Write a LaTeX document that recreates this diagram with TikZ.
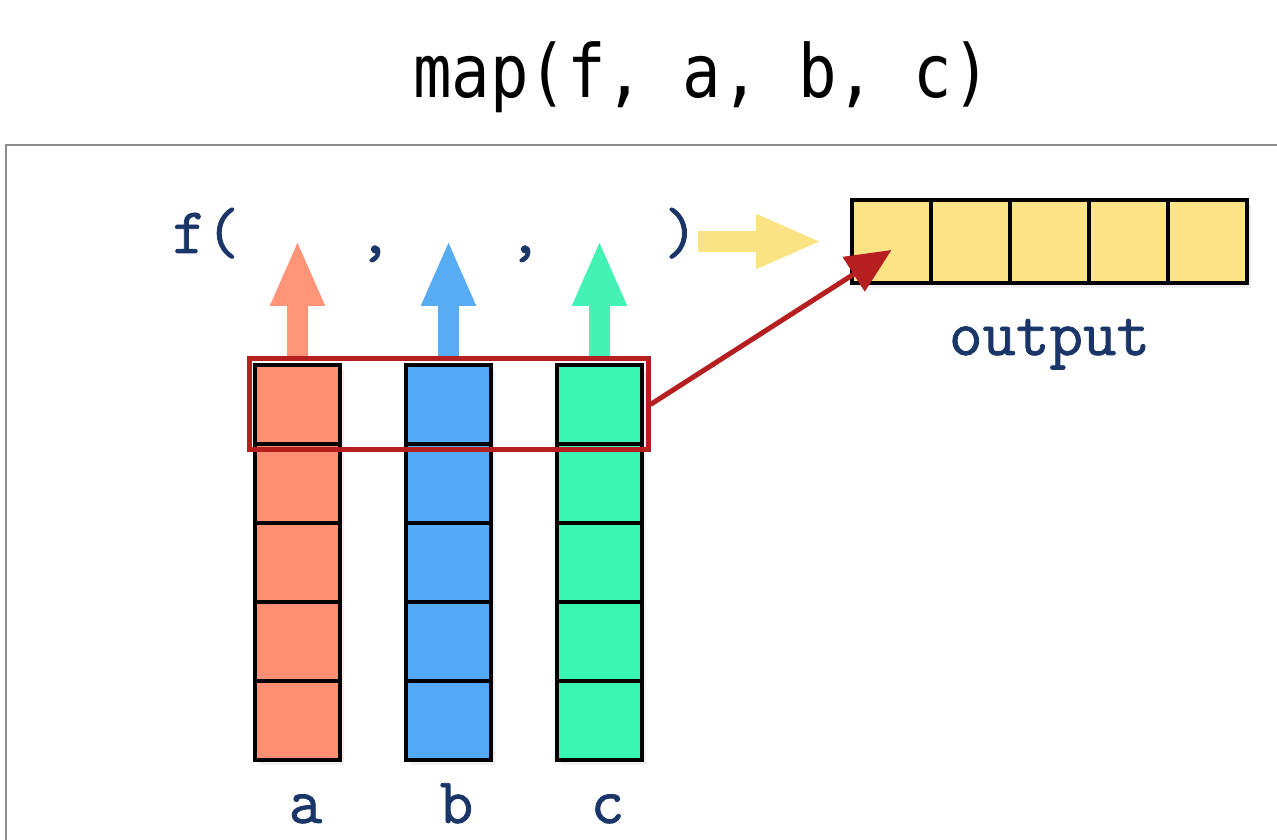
\documentclass[tikz,border=0pt]{standalone}
\usepackage{fontspec}
\newfontfamily\titlefont{DejaVu Sans Mono}
\newfontfamily\codefont{Latin Modern Mono}[FakeBold=1.2]
\usetikzlibrary{arrows.meta, positioning, fit, shadows}

\definecolor{colA}{HTML}{FF8F72}
\definecolor{colB}{HTML}{54AAF7}
\definecolor{colC}{HTML}{37F7B2}
\definecolor{arrA}{HTML}{FF9479}
\definecolor{arrB}{HTML}{58ACF2}
\definecolor{arrC}{HTML}{44F2B3}
\definecolor{outY}{HTML}{FCE486}
\definecolor{arrY}{HTML}{FAE383}
\definecolor{hilite}{HTML}{B61F1F}
\definecolor{navy}{HTML}{1A3668}
\definecolor{framegray}{HTML}{8C8C8C}

\begin{document}
\begin{tikzpicture}[x=0.1mm, y=-0.1mm,
    cell/.style={draw=black, line width=0.4mm, minimum width=8.5mm, minimum height=7.9mm, inner sep=0pt,
        drop shadow={opacity=0.12, shadow xshift=0.4mm, shadow yshift=-0.5mm}},
    outcell/.style={cell, fill=outY, minimum width=7.9mm, minimum height=8.3mm},
    code/.style={font=\codefont\bfseries\fontsize{18.5}{21}\selectfont, text=navy, inner sep=0pt, anchor=base},
    fat/.style={line width=2.1mm, -{Triangle[length=6.6mm, width=5mm]}}]
\useasboundingbox (0,0) rectangle (1277,840);

% Title
\node[font=\titlefont\fontsize{18.2}{22}\selectfont, anchor=base, inner sep=0pt] (title) at (702,98)
    {\scalebox{1}[1.15]{map(f, a, b, c)}};

% Frame
\draw[framegray, line width=0.25mm] (1277,145) -- (6,145) -- (6,840);

% Input columns
\foreach \col/\x/\clr in {a/297.5/colA, b/448.5/colB, c/599.5/colC} {
    \foreach \i in {1,...,5} {
        \node[cell, fill=\clr] (\col\i) at (\x, {404.5+79*(\i-1)}) {};
    }
    \node[code] (l\col) at ([xshift=0.8mm, yshift=-6.1mm]\col5.south) {\col};
}

% Output array
\foreach \i in {1,...,5} {
    \node[outcell] (o\i) at ({891.5+79*(\i-1)}, 241.5) {};
}
\node[code] (outlbl) at ([yshift=-7mm]o3.south) {output};

% Current row
\node[draw=hilite, line width=0.5mm, inner sep=0.4mm, fit=(a1)(c1)] (row) {};

% f( , , )
\node[code] (fopen) at (206,253) {f(};
\node[code] (comma1) at (375,253) {,};
\node[code] (comma2) at (525,253) {,};
\node[code] (fclose) at (681,253) {)};

% Arguments go up into f
\coordinate (tipline) at (0,240);
\foreach \col/\clr in {a/arrA, b/arrB, c/arrC} {
    \draw[fat, \clr] (row.north -| \col1) -- (\col1 |- tipline);
}

% Result goes to output
\draw[fat, arrY] (fclose.east |- o1.west) -- ([xshift=-2.8mm]o1.west);
\coordinate (hit) at ([yshift=-0.85mm]o1.center);
\draw[hilite, line width=0.5mm, -{Triangle[length=4.5mm, width=4mm]}] (row.east) -- (hit);
\end{tikzpicture}
\end{document}
